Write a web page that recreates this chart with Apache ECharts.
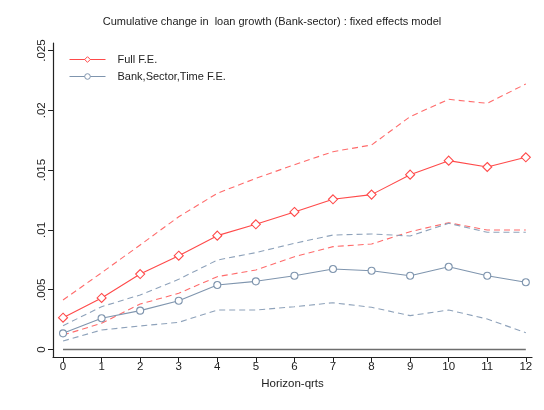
<!DOCTYPE html>
<html>
<head>
<meta charset="utf-8">
<script src="https://cdn.jsdelivr.net/npm/echarts@6/dist/echarts.min.js"></script>
<style>
  html, body { margin: 0; padding: 0; background: #fff; }
  #chart { width: 544px; height: 410px; }
</style>
</head>
<body>
<div id="chart"></div>
<script>
// Horizon in quarters
const horizon = [0, 1, 2, 3, 4, 5, 6, 7, 8, 9, 10, 11, 12];

// Full fixed-effects model: point estimate and confidence band
const fullFE   = [0.00266, 0.00431, 0.00631, 0.00784, 0.00952, 0.01047, 0.0115, 0.01256, 0.01295, 0.01462, 0.01579, 0.01526, 0.01607];
const fullFEHi = [0.00414, 0.00642, 0.00874, 0.0111, 0.01306, 0.01431, 0.01545, 0.01654, 0.0171, 0.01947, 0.02092, 0.02058, 0.0222];
const fullFELo = [0.00121, 0.00219, 0.0038, 0.0047, 0.00609, 0.00665, 0.00776, 0.0086, 0.00882, 0.00985, 0.0106, 0.00999, 0.00999];

// Bank, sector and time fixed effects: point estimate and confidence band
const bstFE   = [0.00135, 0.00261, 0.00325, 0.00408, 0.00539, 0.0057, 0.00617, 0.00673, 0.00659, 0.00617, 0.00692, 0.00617, 0.00562];
const bstFEHi = [0.00199, 0.00358, 0.00456, 0.00587, 0.00748, 0.0081, 0.00888, 0.00957, 0.00966, 0.00949, 0.01055, 0.0098, 0.0098];
const bstFELo = [0.00071, 0.00163, 0.00197, 0.00227, 0.0033, 0.0033, 0.00358, 0.00391, 0.00353, 0.00283, 0.0033, 0.00255, 0.0014];

// Axis tick values
const yTicks = [0, 0.005, 0.01, 0.015, 0.02, 0.025];
const xTicks = horizon;

const titleText = 'Cumulative change in  loan growth (Bank-sector) : fixed effects model';
const xTitle = 'Horizon-qrts';
const names = ['Full F.E.', 'Bank,Sector,Time F.E.'];

const RED = '#ff4a4a';
const RED_CI = '#ff6b6b';
const BLUE = '#7f95ae';
const BLUE_CI = '#8ea2ba';
const FONT = 'Liberation Sans, Arial, sans-serif';

const pairs = arr => horizon.map((h, i) => [h, arr[i]]);
const diamond = 'path://M0,-1L1,0L0,1L-1,0Z';

const chart = echarts.init(document.getElementById('chart'), null, { renderer: 'canvas' });

function ciSeries(name, arr, color) {
  return {
    name: name,
    type: 'line',
    data: pairs(arr),
    symbol: 'none',
    silent: true,
    lineStyle: { color: color, width: 1.1, type: [6, 4] },
    z: 2
  };
}

chart.setOption({
  animation: false,
  backgroundColor: '#fff',
  textStyle: { fontFamily: FONT },
  title: {
    text: titleText,
    left: 'center',
    top: 11,
    textStyle: { fontFamily: FONT, fontSize: 11, fontWeight: 'normal', color: '#222' }
  },
  legend: {
    data: [
      { name: names[0], itemStyle: { borderWidth: 1 }, lineStyle: { width: 1 } },
      { name: names[1], itemStyle: { borderWidth: 1 }, lineStyle: { width: 1 } }
    ],
    orient: 'vertical',
    left: 64,
    top: 49,
    itemWidth: 36,
    itemHeight: 7,
    itemGap: 6,
    textStyle: { fontFamily: FONT, fontSize: 11, color: '#222', padding: [0, 0, 0, 7] }
  },
  grid: { left: 53, right: 12, top: 43, bottom: 53, containLabel: false },
  xAxis: {
    type: 'value',
    min: -0.26,
    max: 12.16,
    name: xTitle,
    nameLocation: 'middle',
    nameGap: 20,
    nameTextStyle: { fontFamily: FONT, fontSize: 11.5, color: '#222' },
    axisLine: { show: true, onZero: false, lineStyle: { color: '#222', width: 1.2 } },
    axisTick: { show: true, length: 5, customValues: xTicks, lineStyle: { color: '#222' } },
    axisLabel: { customValues: xTicks, fontSize: 11.5, color: '#222', margin: 4, fontFamily: FONT },
    splitLine: { show: false }
  },
  yAxis: {
    type: 'value',
    min: -0.000627,
    max: 0.025627,
    axisLine: { show: true, onZero: false, lineStyle: { color: '#222', width: 1.2 } },
    axisTick: { show: true, length: 5, customValues: yTicks, lineStyle: { color: '#222' } },
    axisLabel: {
      customValues: yTicks,
      rotate: 90,
      fontSize: 11.5,
      color: '#222',
      margin: 5,
      fontFamily: FONT,
      formatter: v => (v === 0 ? '0' : String(v).replace(/^0/, ''))
    },
    splitLine: { show: false }
  },
  series: [
    {
      name: 'zero',
      type: 'line',
      data: horizon.map(h => [h, 0]),
      symbol: 'none',
      silent: true,
      lineStyle: { color: '#6e6e6e', width: 1.5 },
      z: 1
    },
    ciSeries('fullHi', fullFEHi, RED_CI),
    ciSeries('fullLo', fullFELo, RED_CI),
    ciSeries('bstHi', bstFEHi, BLUE_CI),
    ciSeries('bstLo', bstFELo, BLUE_CI),
    {
      name: names[0],
      type: 'line',
      data: pairs(fullFE),
      symbol: diamond,
      symbolSize: 9,
      showAllSymbol: true,
      lineStyle: { color: RED, width: 1.1 },
      itemStyle: { color: '#fff', borderColor: RED, borderWidth: 1.1 },
      z: 4
    },
    {
      name: names[1],
      type: 'line',
      data: pairs(bstFE),
      symbol: 'circle',
      symbolSize: 7,
      showAllSymbol: true,
      lineStyle: { color: BLUE, width: 1.1 },
      itemStyle: { color: '#fff', borderColor: BLUE, borderWidth: 1.1 },
      z: 3
    }
  ]
});
</script>
</body>
</html>
